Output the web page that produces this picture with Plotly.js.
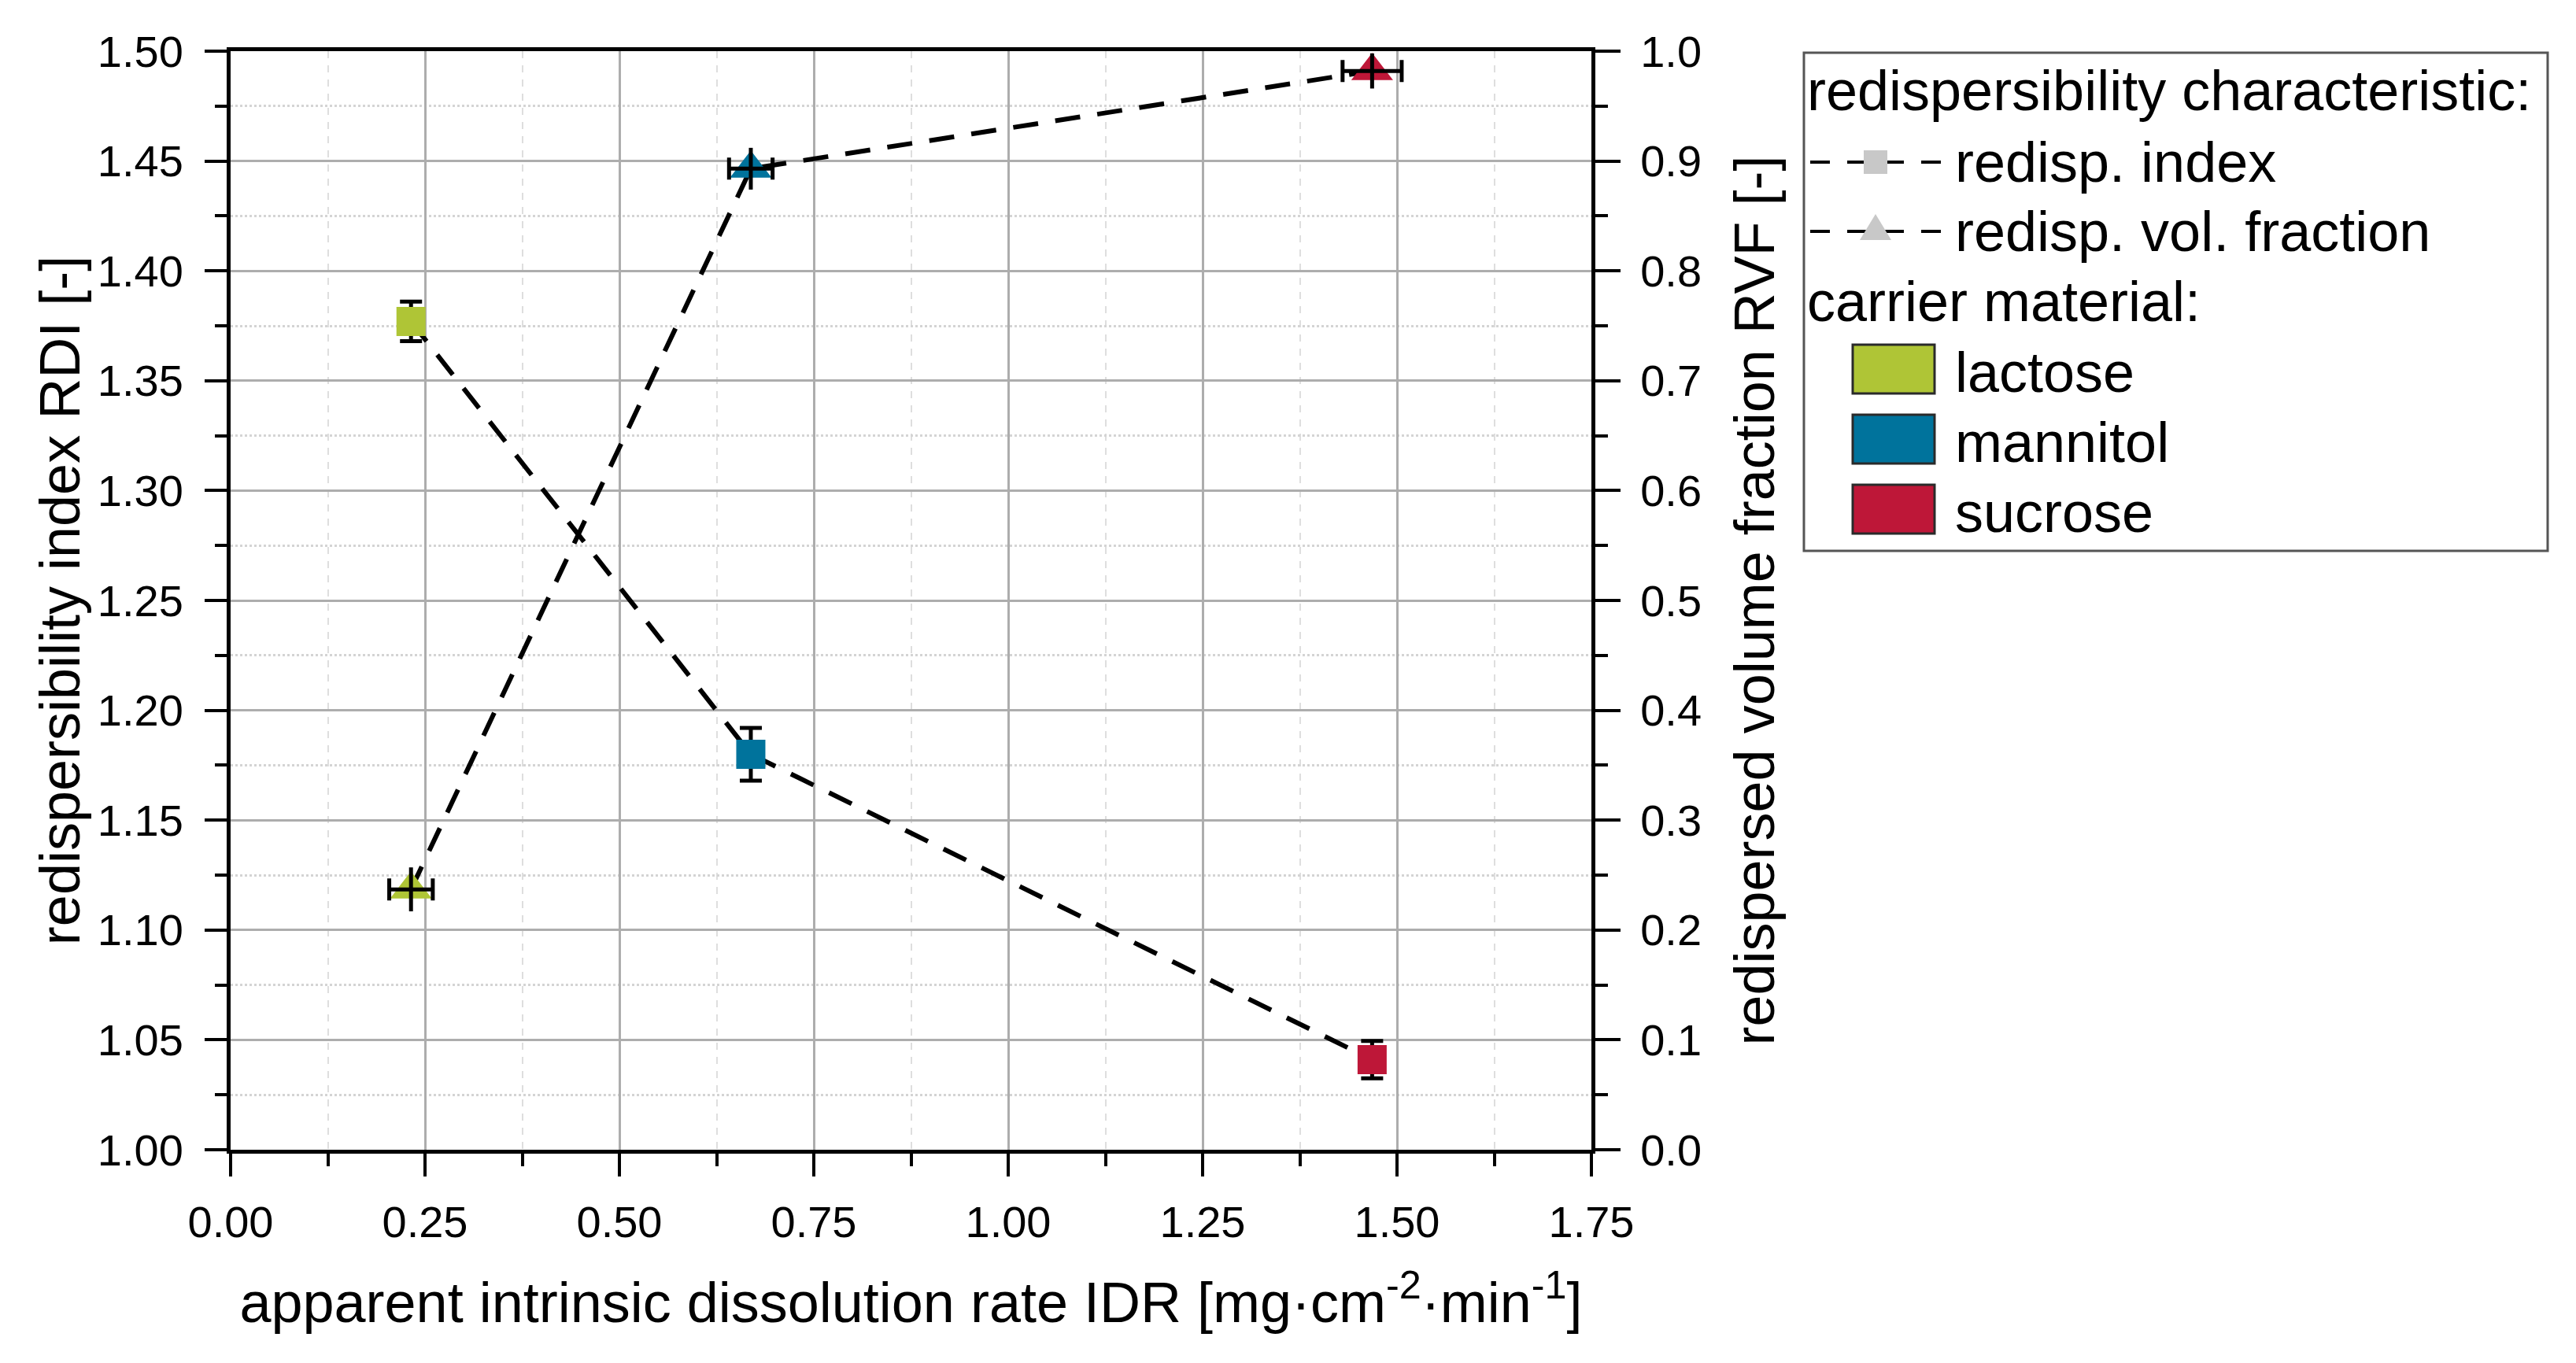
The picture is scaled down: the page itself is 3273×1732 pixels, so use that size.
<!DOCTYPE html>
<html><head><meta charset="utf-8">
<script src="https://cdn.plot.ly/plotly-3.0.1.min.js"></script>
<style>html,body{margin:0;padding:0;background:#fff}</style>
</head><body><div id="chart" style="width:3273px;height:1732px"></div>
<script>
// ---- data ----
const carriers = ['lactose', 'mannitol', 'sucrose'];
const carrierColors = ['#AFC536', '#00739C', '#BE1738'];
const idr = [0.232, 0.669, 1.468];
const idrErr = [0.028, 0.028, 0.038];
const rdi = [1.377, 1.180, 1.041];
const rdiErr = [0.009, 0.012, 0.0085];
const rvf = [0.237, 0.893, 0.982];
const rvfErr = [0.020, 0.019, 0.016];
const seriesNames = ['redisp. index', 'redisp. vol. fraction'];
const groupTitles = ['redispersibility characteristic:', 'carrier material:'];

// ---- geometry (px) ----
const W = 3273, H = 1732;
const PL = 293, PR = 2022, PT = 65, PB = 1461;
const X = px => (px - PL) / (PR - PL);
const Y = py => (PB - py) / (PB - PT);
const FONT = 'Liberation Sans, Arial, sans-serif';

const dashLine = {color: '#000', width: 6, dash: '32px,22px'};

const traces = [
  {x: idr, y: rdi, mode: 'lines', line: dashLine, yaxis: 'y', showlegend: false, hoverinfo: 'skip'},
  {x: idr, y: rdi, mode: 'markers', yaxis: 'y', showlegend: false, name: seriesNames[0],
   marker: {symbol: 'square', size: 37, color: carrierColors, line: {width: 0}},
   error_y: {type: 'data', array: rdiErr, visible: true, color: '#000', thickness: 5, width: 14}},
  {x: idr, y: rvf, mode: 'lines', line: dashLine, yaxis: 'y2', showlegend: false, hoverinfo: 'skip'},
  {x: idr, y: rvf, mode: 'markers', yaxis: 'y2', showlegend: false, name: seriesNames[1],
   marker: {symbol: 'triangle-up', size: 46, color: carrierColors, line: {width: 0}}},
  {x: idr, y: rvf, mode: 'markers', yaxis: 'y2', showlegend: false, hoverinfo: 'skip',
   marker: {size: 1, opacity: 0},
   error_y: {type: 'data', array: rvfErr, visible: true, color: '#000', thickness: 5, width: 0},
   error_x: {type: 'data', array: idrErr, visible: true, color: '#000', thickness: 5, width: 14}}
];

// ---- hand-built legend ----
const shapes = [];
const annotations = [];
shapes.push({type: 'rect', xref: 'paper', yref: 'paper', x0: X(2292), x1: X(3237), y0: Y(67), y1: Y(700),
  line: {color: '#555', width: 3}, fillcolor: 'rgba(0,0,0,0)', layer: 'above'});
function txt(s, px, py) {
  annotations.push({xref: 'paper', yref: 'paper', x: X(px), y: Y(py), text: s, showarrow: false,
    xanchor: 'left', yanchor: 'middle', font: {family: FONT, size: 72, color: '#000'}});
}
txt(groupTitles[0], 2294, 115);
txt(groupTitles[1], 2294, 383);
const rowY = [206, 294];
seriesNames.forEach((n, i) => {
  const cy = rowY[i];
  shapes.push({type: 'line', xref: 'paper', yref: 'paper', x0: X(2300), x1: X(2467), y0: Y(cy), y1: Y(cy),
    line: {color: '#000', width: 4, dash: '25px,22px'}, layer: 'above'});
  if (i === 0) {
    shapes.push({type: 'rect', xref: 'paper', yref: 'paper', x0: X(2368), x1: X(2398), y0: Y(cy - 15), y1: Y(cy + 15),
      line: {width: 0}, fillcolor: '#C8C8C8', layer: 'above'});
  } else {
    const p = `M${X(2363)},${Y(cy + 11)} L${X(2403)},${Y(cy + 11)} L${X(2383)},${Y(cy - 22)} Z`;
    shapes.push({type: 'path', xref: 'paper', yref: 'paper', path: p, line: {width: 0}, fillcolor: '#C8C8C8', layer: 'above'});
  }
  txt(n, 2482, cy);
});
const carrierRowY = [469, 558, 647];
carriers.forEach((c, i) => {
  const cy = carrierRowY[i];
  shapes.push({type: 'rect', xref: 'paper', yref: 'paper', x0: X(2354), x1: X(2458), y0: Y(cy - 31), y1: Y(cy + 31),
    line: {color: '#2a2a2a', width: 3}, fillcolor: carrierColors[i], layer: 'above'});
  txt(c, 2482, cy + 4);
});

const tickFont = {family: FONT, size: 56, color: '#000'};
const titleFont = {family: FONT, size: 72, color: '#000'};

const layout = {
  width: W, height: H,
  margin: {l: PL, r: W - PR, t: PT, b: H - PB, pad: 0},
  paper_bgcolor: '#fff', plot_bgcolor: '#fff',
  font: {family: FONT, color: '#000'},
  showlegend: false,
  xaxis: {
    range: [0, 1.75], dtick: 0.25, tick0: 0, tickformat: '.2f',
    showline: true, linecolor: '#000', linewidth: 5, mirror: true,
    ticks: 'outside', ticklen: 29, tickwidth: 4, tickcolor: '#000',
    showgrid: true, gridcolor: '#adadad', gridwidth: 3, zeroline: false,
    tickfont: tickFont, ticklabelstandoff: 10,
    minor: {dtick: 0.125, ticks: 'outside', ticklen: 16, tickwidth: 4, tickcolor: '#000',
            showgrid: true, gridcolor: '#dedede', gridwidth: 2, griddash: 'dash'},
    title: {text: 'apparent intrinsic dissolution rate IDR [mg·cm<sup>-2</sup>·min<sup>-1</sup>]', font: titleFont, standoff: 48},
    automargin: false
  },
  yaxis: {
    range: [1.0, 1.5], dtick: 0.05, tick0: 1.0, tickformat: '.2f',
    showline: true, linecolor: '#000', linewidth: 5,
    ticks: 'outside', ticklen: 28, tickwidth: 4, tickcolor: '#000',
    showgrid: true, gridcolor: '#adadad', gridwidth: 3, zeroline: false,
    tickfont: tickFont, ticklabelstandoff: 16,
    minor: {dtick: 0.025, ticks: 'outside', ticklen: 15, tickwidth: 4, tickcolor: '#000',
            showgrid: true, gridcolor: '#d4d4d4', gridwidth: 3, griddash: 'dot'},
    title: {text: 'redispersibility index RDI [-]', font: titleFont, standoff: 0},
    automargin: false
  },
  yaxis2: {
    overlaying: 'y', side: 'right',
    range: [0, 1.0], dtick: 0.1, tick0: 0, tickformat: '.1f',
    showline: true, linecolor: '#000', linewidth: 5,
    ticks: 'outside', ticklen: 32, tickwidth: 4, tickcolor: '#000',
    showgrid: false, zeroline: false,
    tickfont: tickFont, ticklabelstandoff: 14,
    minor: {dtick: 0.05, ticks: 'outside', ticklen: 16, tickwidth: 4, tickcolor: '#000', showgrid: false},
    title: {text: 'redispersed volume fraction RVF [-]', font: titleFont, standoff: 44},
    automargin: false
  },
  shapes: shapes,
  annotations: annotations
};

Plotly.newPlot('chart', traces, layout, {displayModeBar: false, staticPlot: true});
</script>
</body></html>
